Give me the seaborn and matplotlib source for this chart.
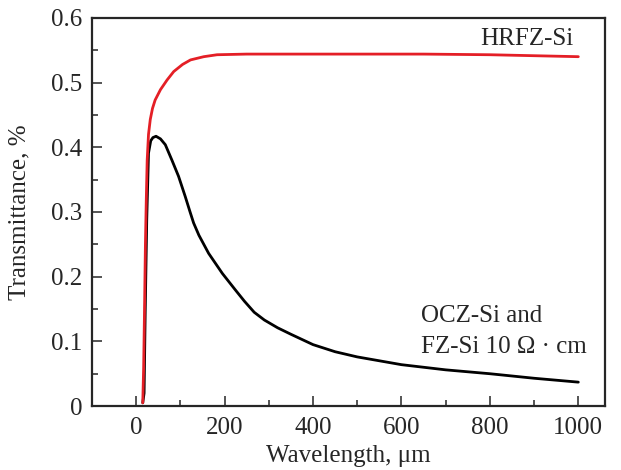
import numpy as np
import pandas as pd
import matplotlib
matplotlib.use('Agg')
import matplotlib.pyplot as plt
from matplotlib.ticker import MultipleLocator, FuncFormatter
import seaborn as sns

# ========== data ==========
wl_hrfz = [15, 17, 19, 21, 23, 25, 28, 32, 37, 43, 55, 70, 85, 105, 123, 153,
           183, 250, 400, 650, 800, 1000]
tr_hrfz = [0.005, 0.06, 0.15, 0.25, 0.32, 0.38, 0.42, 0.443, 0.46, 0.473,
           0.489, 0.504, 0.517, 0.528, 0.535, 0.540, 0.543, 0.544, 0.544,
           0.544, 0.543, 0.540]

wl_ocz = [15, 18, 20.5, 24, 28, 33, 38, 45, 55, 66, 81, 96, 111, 122, 130,
          142, 164, 195, 225, 245, 267, 290, 320, 350, 400, 450, 500, 600,
          700, 800, 900, 1000]
tr_ocz = [0.005, 0.02, 0.143, 0.288, 0.391, 0.41, 0.415, 0.417, 0.413, 0.404,
          0.380, 0.355, 0.324, 0.30, 0.283, 0.264, 0.236, 0.205, 0.179, 0.162,
          0.145, 0.133, 0.121, 0.111, 0.095, 0.084, 0.076, 0.064, 0.056,
          0.050, 0.043, 0.037]

hrfz = pd.DataFrame({'wl': wl_hrfz, 'tr': tr_hrfz})
ocz = pd.DataFrame({'wl': wl_ocz, 'tr': tr_ocz})

# ========== style ==========
sns.set_style('ticks')
plt.rcParams['font.family'] = ['Liberation Serif', 'DejaVu Serif']

fig = plt.figure(figsize=(6.21, 4.70), dpi=100)
ax = fig.add_axes([0.148, 0.136, 0.826, 0.826])

sns.lineplot(data=ocz, x='wl', y='tr', color='black', lw=2, ax=ax, legend=False)
sns.lineplot(data=hrfz, x='wl', y='tr', color='#e41f26', lw=2, ax=ax, legend=False)

ax.set_xlim(-100, 1060)
ax.set_ylim(0, 0.6)
ax.xaxis.set_major_locator(MultipleLocator(200))
ax.xaxis.set_minor_locator(MultipleLocator(100))
ax.yaxis.set_major_locator(MultipleLocator(0.1))
ax.yaxis.set_minor_locator(MultipleLocator(0.05))
ax.yaxis.set_major_formatter(FuncFormatter(lambda v, p: '%g' % round(v, 2)))

ax.tick_params(which='both', direction='in', top=False, right=False,
               width=1.1, labelsize=18)
ax.tick_params(axis='x', pad=8)
ax.tick_params(axis='y', pad=7)
ax.tick_params(which='major', length=7)
ax.tick_params(which='minor', length=4.5)
for s in ax.spines.values():
    s.set_linewidth(1.6)
    s.set_visible(True)

ax.set_xlabel('Wavelength, μm', fontsize=18)
ax.set_ylabel('Transmittance, %', fontsize=18)
ax.xaxis.set_label_coords(0.5, -0.10)
ax.yaxis.set_label_coords(-0.12, 0.5)

ax.text(990, 0.567, 'HRFZ-Si', fontsize=18, ha='right', va='center')
ax.text(645, 0.139, 'OCZ-Si and', fontsize=18, ha='left', va='center')
ax.text(645, 0.091, 'FZ-Si 10 Ω · cm', fontsize=18, ha='left', va='center')

plt.savefig('out.png', dpi=100)
